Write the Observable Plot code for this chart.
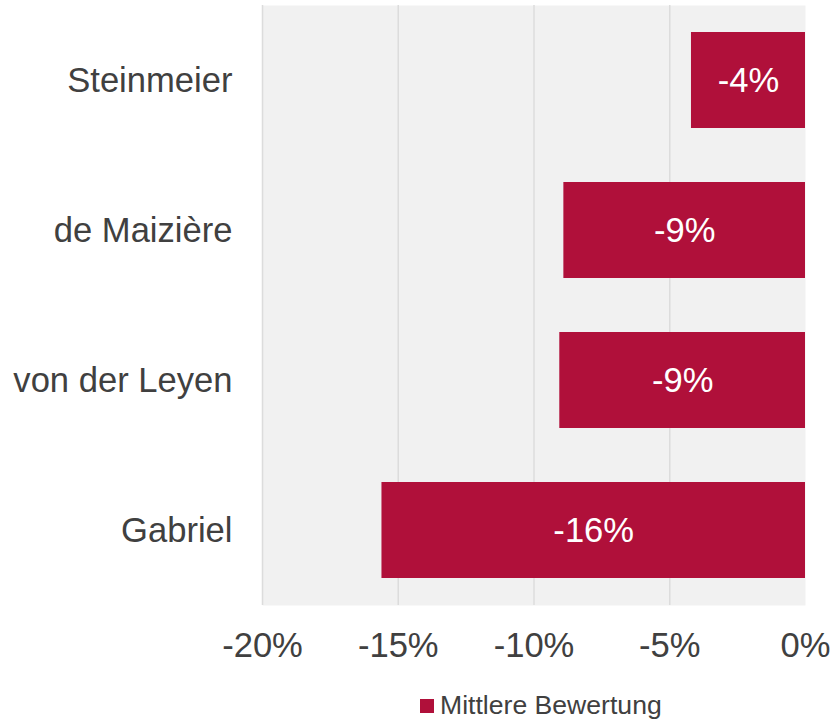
<!DOCTYPE html>
<html>
<head>
<meta charset="utf-8">
<script src="https://cdn.jsdelivr.net/npm/d3@7"></script>
<script src="https://cdn.jsdelivr.net/npm/@observablehq/plot@0.6"></script>
<style>
  html, body { margin: 0; padding: 0; background: #fff; }
  body { width: 833px; height: 720px; overflow: hidden; font-family: "Liberation Sans", Arial, sans-serif; }
  #legend { position: relative; height: 40px; font-size: 26.6px; color: #404040; }
  #legend .item { position: absolute; left: 420px; top: 10px; display: flex; align-items: center; white-space: nowrap; }
  #legend .sw { width: 14px; height: 14px; background: #B0103A; margin-right: 6px; }
</style>
</head>
<body>
<div id="chart"></div>
<div id="legend"><div class="item"><span class="sw"></span><span id="legendText"></span></div></div>
<script>
const categories = ["Steinmeier", "de Maizière", "von der Leyen", "Gabriel"];
const values = [-4.2, -8.9, -9.05, -15.6];
const xTicks = [-20, -15, -10, -5, 0];
const seriesName = "Mittlere Bewertung";

const data = categories.map((name, i) => ({name, value: values[i]}));
const barColor = "#B0103A";
const textColor = "#404040";
const fs = 34.6;

const chart = Plot.plot({
  width: 833,
  height: 680,
  marginTop: 5,
  marginBottom: 75,
  marginLeft: 262,
  marginRight: 28,
  style: {fontFamily: "Liberation Sans, Arial, sans-serif", fontSize: fs + "px", color: textColor, background: "#fff"},
  x: {domain: [-20, 0], ticks: xTicks, tickFormat: d => d + "%", tickSize: 0, tickPadding: 26, label: null},
  y: {domain: categories, paddingInner: 0.36, paddingOuter: 0.18, tickSize: 0, tickPadding: 30, label: null},
  marks: [
    Plot.frame({fill: "#F1F1F1", stroke: null}),
    Plot.ruleX(xTicks.filter(d => d < 0), {stroke: "#DCDCDC", strokeWidth: 1.5}),
    Plot.barX(data, {y: "name", x1: 0, x2: "value", fill: barColor}),
    Plot.text(data, {y: "name", x: d => d.value / 2, text: d => Math.round(d.value) + "%", fill: "#fff", fontSize: fs}),
    Plot.axisX({ticks: xTicks, tickFormat: d => d + "%", tickSize: 0, tickPadding: 27, fontSize: fs, fill: textColor, label: null}),
    Plot.axisY({tickSize: 0, tickPadding: 30, fontSize: fs, fill: textColor, label: null})
  ]
});
document.getElementById("chart").appendChild(chart);
document.getElementById("legendText").textContent = seriesName;
</script>
</body>
</html>
